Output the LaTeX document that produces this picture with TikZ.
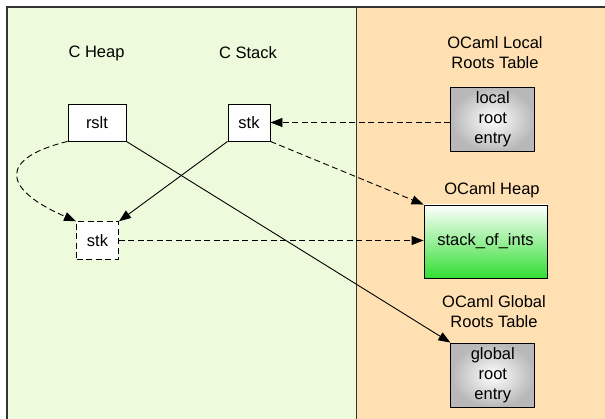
\documentclass[tikz,border=0pt]{standalone}
\usepackage{fontspec}
\setmainfont{Liberation Sans}
\usetikzlibrary{arrows.meta,shadings}

\definecolor{cside}{RGB}{238,250,220}
\definecolor{mlside}{RGB}{255,224,178}
\definecolor{heapgreen}{RGB}{50,222,50}

\begin{document}
\begin{tikzpicture}[x=1pt,y=-1pt,
  txt/.style={font=\fontsize{16.5}{20}\selectfont, align=center, inner sep=0pt},
  cell/.style={txt, draw=black, line width=0.9pt, fill=white},
  rootcell/.style={cell, minimum width=84pt, minimum height=64.5pt,
    inner color=white, outer color=black!28},
  link/.style={line width=0.9pt, -{Triangle[length=12pt,width=9pt]}},
  weak/.style={link, dash pattern=on 6pt off 3.5pt}
]
\useasboundingbox (0,0) rectangle (605,419);
\clip (0,0) rectangle (605,419);

% two regions: C side and OCaml side
\fill[cside] (7,7) rectangle (356,430);
\fill[mlside] (356,7) rectangle (620,430);
\draw[black!80, line width=1.3pt] (620,7) -- (7,7) -- (7,430);
\draw[black!80, line width=0.9pt] (356,7) -- (356,430);

% region titles
\node[txt] at (96.5,53) {C Heap};
\node[txt] at (248,53) {C Stack};
\node[txt] at (495,53) {OCaml Local\\Roots Table};
\node[txt] at (492,190) {OCaml Heap};
\node[txt] at (494,312) {OCaml Global\\Roots Table};

% cells
\node[cell, minimum width=58pt, minimum height=37pt] (rslt) at (97,122.5) {rslt};
\node[cell, minimum width=42pt, minimum height=37pt] (cstk) at (249,122.5) {stk};
\node[cell, dash pattern=on 6pt off 3.5pt, minimum width=42pt, minimum height=37.5pt] (lstk) at (97.5,240.5) {stk};
\node[rootcell] (local) at (492.8,119.5) {local\\root\\entry};
\node[rootcell] (global) at (492.8,375.3) {global\\root\\entry};
\node[cell, minimum width=123pt, minimum height=73pt,
  top color=white, bottom color=heapgreen] (heap) at (485.5,241.5) {stack\_of\_ints};

% pointers
\draw[weak] (local.west |- cstk.east) -- (cstk.east);
\draw[weak] (cstk.south east) -- (heap.north west);
\draw[weak] (lstk.east) -- (lstk.east -| heap.west);
\draw[weak] (rslt.south west) .. controls (0,158) and (0,188) .. (lstk.north west);
\draw[link] (cstk.south west) -- (lstk.north east);
\draw[link] (rslt.south east) -- (global.north west);
\end{tikzpicture}
\end{document}
